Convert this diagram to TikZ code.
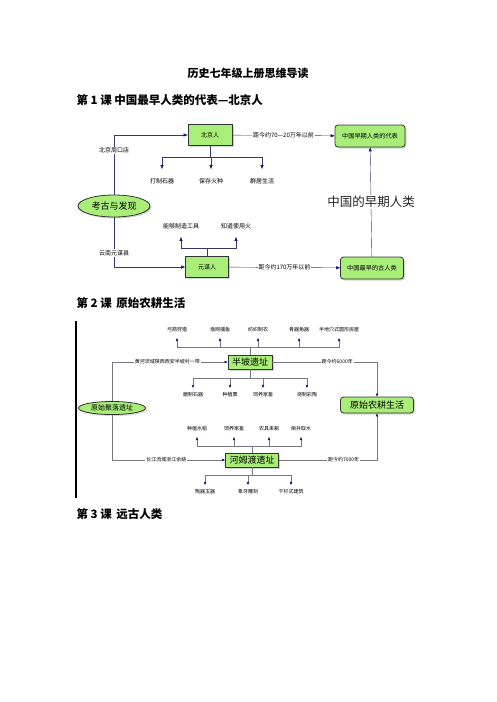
\documentclass[tikz,border=0pt]{standalone}
\usepackage{fontspec}
\setmainfont{Noto Sans CJK SC}
\usetikzlibrary{arrows.meta,positioning,shapes.geometric,shadows}

\definecolor{boxgreen}{RGB}{170,238,122}
\definecolor{linenavy}{RGB}{55,55,110}
\definecolor{headnavy}{RGB}{20,20,110}
\definecolor{linegray}{RGB}{120,120,130}

\begin{document}
\begin{tikzpicture}[x=1pt, y=-1pt,
    box/.style={draw=gray!40!black, fill=boxgreen, thick, inner sep=1pt,
                drop shadow={shadow xshift=1.5pt, shadow yshift=-1.5pt, fill=gray!65}},
    rbox/.style={box, rounded corners=3pt},
    oval/.style={box, ellipse},
    leaf/.style={inner sep=1pt, font=\fontsize{6}{7}\selectfont},
    smallleaf/.style={inner sep=1pt, font=\fontsize{5}{6}\selectfont},
    lbl/.style={fill=white, inner sep=1pt, font=\fontsize{6}{7}\selectfont},
    smalllbl/.style={fill=white, inner sep=1pt, font=\fontsize{5}{6}\selectfont},
    arr/.style={-{Triangle[length=4pt, width=3pt, color=headnavy]}, draw=linenavy},
    arrs/.style={-{Triangle[length=3pt, width=2.4pt, color=headnavy]}, draw=linegray},
    lin/.style={draw=linenavy},
    lins/.style={draw=linegray},
    heading/.style={anchor=west, font=\fontsize{11.5}{13}\selectfont\bfseries}
]
\useasboundingbox (0,0) rectangle (496,702);

% headings
\node[font=\fontsize{11}{12}\selectfont\bfseries] (title) at (248,73) {历史七年级上册思维导读};
\node[heading] (lesson1) at (73,100) {第 1 课 中国最早人类的代表—北京人};
\node[heading] (lesson2) at (73,303) {第 2 课\, 原始农耕生活};
\node[heading] (lesson3) at (73,514) {第 3 课\, 远古人类};

% lesson 1
\node[box, minimum width=44pt, minimum height=21pt, font=\fontsize{6}{7}\selectfont]
    (bjr) at (210,135) {北京人};
\node[rbox, minimum width=70pt, minimum height=22pt, font=\fontsize{6.2}{7}\selectfont]
    (rep) at (370,136) {中国早期人类的代表};
\node[oval, minimum width=72pt, minimum height=22pt, font=\fontsize{9}{10}\selectfont]
    (find) at (114,206) {考古与发现};
\node[box, minimum width=43pt, minimum height=21pt, font=\fontsize{6}{7}\selectfont]
    (ymr) at (207,267) {元谋人};
\node[rbox, minimum width=63pt, minimum height=22pt, font=\fontsize{6.2}{7}\selectfont]
    (old) at (372,268) {中国最早的古人类};

\draw[arr] (find) |- node[lbl, pos=0.37] {北京周口店} (bjr);
\draw[arr] (find) |- node[lbl, pos=0.36] {云南元谋县} (ymr);
\draw[arr] (bjr) -- node[lbl] {距今约70—20万年以前} (rep);
\draw[arr] (ymr) -- node[lbl] {距今约170万年以前} (old);
\draw[arr] (old) -- node[fill=white, inner sep=1pt, text=black!85, font=\fontsize{12.5}{14}\selectfont]
    {中国的早期人类} (rep);

\coordinate (bjj) at (210,157);
\draw[lin] (bjr) -- (bjj);
\foreach \x/\t [count=\i] in {162/打制石器, 211/保存火种, 262/群居生活} {
  \node[leaf] (bjl\i) at (\x,181) {\t};
  \draw[arr, shorten >=8pt] (bjj) -| (bjl\i);
}

\coordinate (ymj) at (207,248);
\draw[lin] (ymr) -- (ymj);
\foreach \x/\t [count=\i] in {181/能够制造工具, 236/知道使用火} {
  \node[leaf] (yml\i) at (\x,226) {\t};
  \draw[arr, shorten >=7pt] (ymj) -| (yml\i);
}

% lesson 2
\draw[line width=1.2pt] (76,321) -- (76,498);

\node[box, minimum width=44pt, minimum height=14pt, font=\fontsize{9}{10}\selectfont]
    (bpo) at (250,362) {半坡遗址};
\node[box, minimum width=53pt, minimum height=14pt, font=\fontsize{9}{10}\selectfont]
    (hmd) at (252,460) {河姆渡遗址};
\node[oval, minimum width=67pt, minimum height=13pt, font=\fontsize{7}{8}\selectfont]
    (site) at (112,408) {原始聚落遗址};
\node[rbox, minimum width=73pt, minimum height=16pt, font=\fontsize{9}{10}\selectfont]
    (farm) at (377,405) {原始农耕生活};

\draw[arrs] (site) |- node[smalllbl, pos=0.74] {黄河流域陕西西安半坡村一带} (bpo);
\draw[arrs] (site) |- node[smalllbl, pos=0.74] {长江流域浙江余姚} (hmd);
\draw[arrs] (bpo) -| node[smalllbl, pos=0.31] {距今约6000年} (farm);
\draw[arrs] (hmd) -| node[smalllbl, pos=0.33] {距今约7000年} (farm);

\coordinate (bpt) at (250,347);
\coordinate (bpb) at (250,378);
\draw[lins] (bpo) -- (bpt);
\draw[lins] (bpo) -- (bpb);
\foreach \x/\t [count=\i] in {177/弓箭狩猎, 220/渔网捕鱼, 258/纺织制衣, 299/骨器角器, 339/半地穴式圆形房屋} {
  \node[smallleaf] (bptl\i) at (\x,330) {\t};
  \draw[arrs, shorten >=4.5pt] (bpt) -| (bptl\i);
}
\foreach \x/\t [count=\i] in {193/磨制石器, 230/种植粟, 263/饲养家畜, 307/烧制彩陶} {
  \node[smallleaf] (bpbl\i) at (\x,395) {\t};
  \draw[arrs, shorten >=3.5pt] (bpb) -| (bpbl\i);
}

\coordinate (hmt) at (252,446);
\coordinate (hmb) at (252,475);
\draw[lins] (hmd) -- (hmt);
\draw[lins] (hmd) -- (hmb);
\foreach \x/\t [count=\i] in {197/种植水稻, 234/饲养家畜, 269/农具耒耜, 301/凿井取水} {
  \node[smallleaf] (hmtl\i) at (\x,429) {\t};
  \draw[arrs, shorten >=4.5pt] (hmt) -| (hmtl\i);
}
\foreach \x/\t [count=\i] in {205/陶器玉器, 248/象牙雕刻, 291/干栏式建筑} {
  \node[smallleaf] (hmbl\i) at (\x,492) {\t};
  \draw[arrs, shorten >=3.5pt] (hmb) -| (hmbl\i);
}
\end{tikzpicture}
\end{document}
